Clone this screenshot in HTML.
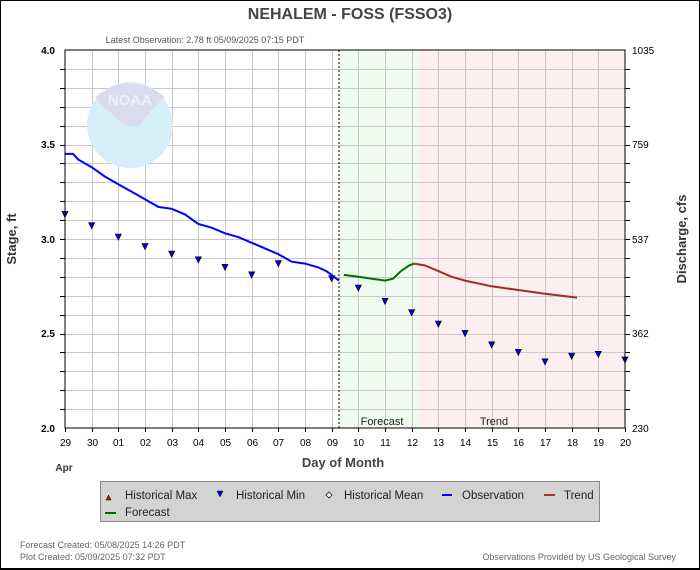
<!DOCTYPE html>
<html><head><meta charset="utf-8"><style>
body{margin:0;background:#fff}
svg{display:block;font-family:"Liberation Sans",sans-serif}
</style></head><body>
<svg id="s" width="700" height="570" xmlns="http://www.w3.org/2000/svg">
<rect x="0.5" y="0.5" width="699" height="569" fill="#fff" stroke="#000"/>
<rect x="339" y="50" width="80" height="378" fill="#effbee"/>
<rect x="419" y="50" width="206" height="378" fill="#fdefef"/>
<g id="grid" stroke="#c8c8c8" stroke-width="1"></g>
<circle cx="130" cy="125" r="43" fill="#d6eef7"/>
<path d="M95 97 Q130 70 165 97 Q150 110 140 125 Q125 130 110 112 Q100 105 95 97Z" fill="#dbdbef"/>
<text x="130" y="105" font-size="15" font-weight="bold" fill="#eef" text-anchor="middle">NOAA</text>
<line x1="339" y1="50" x2="339" y2="428" stroke="#000" stroke-dasharray="2,2"/>
<g id="data"></g>
<rect x="65" y="50" width="560" height="378" fill="none" stroke="#000"/>
<text x="350" y="19" font-size="16" font-weight="bold" fill="#444" text-anchor="middle">NEHALEM - FOSS  (FSSO3)</text>
<text x="205" y="43" font-size="9" fill="#555" text-anchor="middle">Latest Observation: 2.78 ft 05/09/2025 07:15 PDT</text>
<text x="382" y="428" font-size="11" fill="#222" text-anchor="middle" dy="-3">Forecast</text>
<text x="494" y="428" font-size="11" fill="#222" text-anchor="middle" dy="-3">Trend</text>
<text x="343" y="467" font-size="13" font-weight="bold" fill="#444" text-anchor="middle">Day of Month</text>
<text x="64" y="471" font-size="10" font-weight="bold" fill="#333" text-anchor="middle">Apr</text>
<text transform="translate(16,239) rotate(-90)" font-size="13" font-weight="bold" fill="#333" text-anchor="middle">Stage, ft</text>
<text transform="translate(686,239) rotate(-90)" font-size="13" font-weight="bold" fill="#333" text-anchor="middle">Discharge, cfs</text>
<rect x="100.5" y="481.5" width="499" height="40" fill="#d3d3d3" stroke="#888"/>
<polygon points="106,500 111,500 108.5,495" fill="#e00" stroke="#000" stroke-width="0.5"/>
<text x="125" y="499" font-size="11.5" fill="#222">Historical Max</text>
<polygon points="217,491 223,491 220,497" fill="#00f" stroke="#000" stroke-width="0.5"/>
<text x="236" y="499" font-size="11.5" fill="#222">Historical Min</text>
<polygon points="329,492 332,495 329,498 326,495" fill="#fff" stroke="#000" stroke-width="0.7"/>
<text x="344" y="499" font-size="11.5" fill="#222">Historical Mean</text>
<line x1="442" y1="495" x2="452" y2="495" stroke="#00f" stroke-width="2"/>
<text x="462" y="499" font-size="11.5" fill="#222">Observation</text>
<line x1="544" y1="495" x2="555" y2="495" stroke="#b03030" stroke-width="2"/>
<text x="564" y="499" font-size="11.5" fill="#222">Trend</text>
<line x1="105" y1="513" x2="116" y2="513" stroke="#060" stroke-width="2"/>
<text x="125" y="516" font-size="11.5" fill="#222">Forecast</text>
<text x="20" y="548" font-size="9" fill="#666">Forecast Created: 05/08/2025 14:26 PDT</text>
<text x="20" y="560" font-size="9" fill="#666">Plot Created: 05/09/2025 07:32 PDT</text>
<text x="676" y="560" font-size="9" fill="#666" text-anchor="end">Observations Provided by US Geological Survey</text>
<line x1="0" y1="568.5" x2="700" y2="568.5" stroke="#000"/>
<g id="lab" font-size="10" fill="#000"></g>
</svg>
<script>
var NS="http://www.w3.org/2000/svg";
function el(p,t,a,txt){var e=document.createElementNS(NS,t);for(var k in a)e.setAttribute(k,a[k]);if(txt!=null)e.textContent=txt;p.appendChild(e);return e;}
var X=function(d){return 65+d*560/21},Y=function(s){return 50+(4-s)*189};
var g=document.getElementById('grid'),lab=document.getElementById('lab'),dt=document.getElementById('data');
var days=["29","30","01","02","03","04","05","06","07","08","09","10","11","12","13","14","15","16","17","18","19","20"];
for(var i=0;i<=21;i++){var x=Math.round(X(i))+0.5;if(i>0&&i<21)el(g,'line',{x1:x,y1:50,x2:x,y2:428});
el(lab,'text',{x:x,y:446,'text-anchor':'middle'},days[i]);el(lab,'line',{x1:x,y1:428,x2:x,y2:432,stroke:'#000'});}
for(var j=1;j<20;j++){var y=Math.round(50+j*18.9)+0.5;el(g,'line',{x1:65,y1:y,x2:625,y2:y});el(lab,'line',{x1:625,y1:y,x2:630,y2:y,stroke:'#000'});el(lab,'line',{x1:60,y1:y,x2:65,y2:y,stroke:'#000'});}
[["4.0",50],["3.5",144],["3.0",239],["2.5",333],["2.0",428]].forEach(function(a){el(lab,'text',{x:55,y:a[1]+4,'text-anchor':'end','font-weight':'bold'},a[0]);});
[["1035",50],["759",144],["537",239],["362",333],["230",428]].forEach(function(a){el(lab,'text',{x:632,y:a[1]+4},a[0]);});
function pl(pts,c){el(dt,'polyline',{points:pts.map(function(p){return X(p[0]).toFixed(1)+','+Y(p[1]).toFixed(1)}).join(' '),fill:'none',stroke:c,'stroke-width':2});}
pl([[0,3.45],[0.3,3.45],[0.5,3.42],[1,3.38],[1.5,3.33],[2,3.29],[2.5,3.25],[3,3.21],[3.5,3.17],[4,3.16],[4.5,3.13],[5,3.08],[5.5,3.06],[6,3.03],[6.5,3.01],[7,2.98],[7.5,2.95],[8,2.92],[8.5,2.88],[9,2.87],[9.5,2.85],[9.8,2.83],[10,2.81],[10.27,2.78]],'#0000ff');
pl([[10.46,2.81],[11,2.80],[11.5,2.79],[12,2.78],[12.3,2.79],[12.6,2.83],[12.9,2.86],[13.1,2.87]],'#007000');
pl([[13.1,2.87],[13.5,2.86],[14,2.83],[14.5,2.80],[15,2.78],[16,2.75],[17,2.73],[18,2.71],[19.2,2.69]],'#a52a2a');
[[0,3.13],[1,3.07],[2,3.01],[3,2.96],[4,2.92],[5,2.89],[6,2.85],[7,2.81],[8,2.87],[10,2.79],[11,2.74],[12,2.67],[13,2.61],[14,2.55],[15,2.50],[16,2.44],[17,2.40],[18,2.35],[19,2.38],[20,2.39],[21,2.36]].forEach(function(p){var x=X(p[0]),y=Y(p[1]);el(dt,'polygon',{points:(x-3)+','+(y-3)+' '+(x+3)+','+(y-3)+' '+x+','+(y+3),fill:'#00f',stroke:'#000','stroke-width':0.7});});
</script>
</body></html>
